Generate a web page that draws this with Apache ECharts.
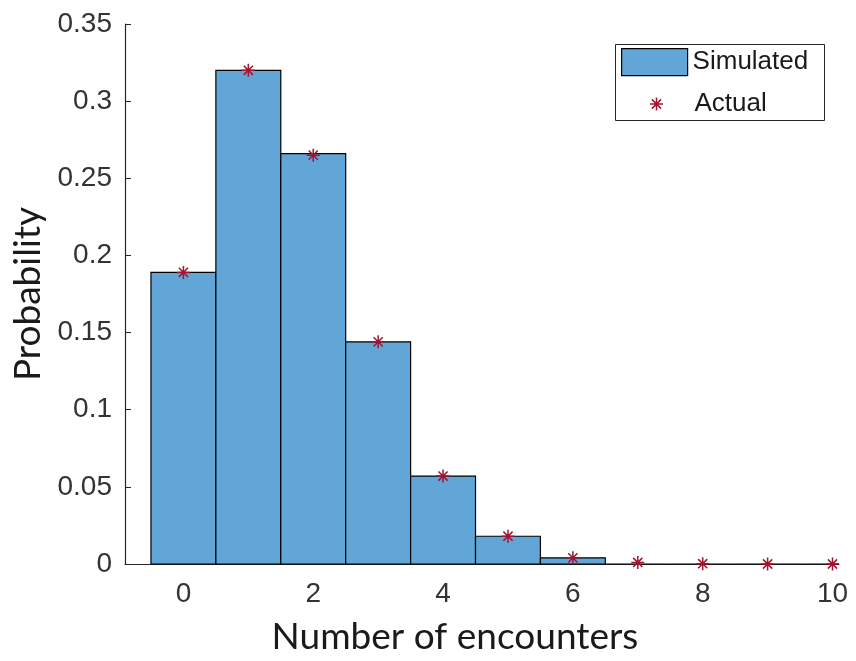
<!DOCTYPE html>
<html>
<head>
<meta charset="utf-8">
<title>Number of encounters</title>
<script src="https://cdn.jsdelivr.net/npm/echarts@6/dist/echarts.min.js"></script>
<style>
  html, body { margin: 0; padding: 0; background: #ffffff; }
  #chart { width: 856px; height: 661px; }
</style>
</head>
<body>
<div id="chart"></div>
<script>
// Encounter counts (histogram bin centres)
const encounters = [0, 1, 2, 3, 4, 5, 6, 7, 8, 9, 10];
// Simulated probability per bin
const simulated = [0.189, 0.320, 0.266, 0.144, 0.057, 0.018, 0.004, 0, 0, 0, 0];
// Actual (theoretical) probability per count
const actual = [0.189, 0.320, 0.265, 0.144, 0.057, 0.018, 0.004, 0.001, 0.0002, 0, 0];
// Tick labels
const xTicks = [0, 2, 4, 6, 8, 10];
const yTicks = [0, 0.05, 0.1, 0.15, 0.2, 0.25, 0.3, 0.35];

const BIN_HALF = 0.5;
const BAR_FILL = '#61A6D7';
const STAR_RED = '#A2142F';
const AXIS_DARK = '#262626';
// eight-spoke asterisk marker
const ASTERISK = 'path://M0,-10L0,10M-10,0L10,0M-7.07,-7.07L7.07,7.07M-7.07,7.07L7.07,-7.07';
// same marker with wide invisible bounds so the legend icon keeps its small size, centred in the swatch
const ASTERISK_WIDE = 'path://M-50.77,-10M50.77,10M0,-10L0,10M-10,0L10,0M-7.07,-7.07L7.07,7.07M-7.07,7.07L7.07,-7.07';

const chart = echarts.init(document.getElementById('chart'), null, { renderer: 'canvas' });

const simData = encounters.map((x, i) => [x, simulated[i]]);
const actData = encounters.map((x, i) => [x, actual[i]]);

const tickFont = { fontFamily: 'Liberation Sans, Arial, sans-serif', fontSize: 28, color: '#333333' };
const nameFont = { fontFamily: 'Lato, sans-serif', fontSize: 37, color: '#1a1a1a' };
const legendFont = { fontFamily: 'Liberation Sans, Arial, sans-serif', fontSize: 26, color: '#1a1a1a' };

chart.setOption({
  animation: false,
  backgroundColor: '#ffffff',
  grid: { left: 125, right: 17, top: 24, bottom: 92, containLabel: false },
  xAxis: {
    type: 'value',
    min: -0.9,
    max: 10.1,
    name: 'Number of encounters',
    nameLocation: 'middle',
    nameGap: 55,
    nameTextStyle: Object.assign({ padding: [0, 54, 0, 0] }, nameFont),
    axisLine: { show: true, onZero: false, lineStyle: { color: AXIS_DARK, width: 1.2 } },
    axisTick: { show: true, inside: true, length: 6, customValues: xTicks, lineStyle: { color: AXIS_DARK, width: 1 } },
    axisLabel: Object.assign({ margin: 16, customValues: xTicks }, tickFont),
    splitLine: { show: false }
  },
  yAxis: {
    type: 'value',
    min: 0,
    max: 0.35,
    name: 'Probability',
    nameLocation: 'middle',
    nameGap: 78,
    nameTextStyle: nameFont,
    axisLine: { show: true, onZero: false, lineStyle: { color: AXIS_DARK, width: 1.2 } },
    axisTick: { show: true, inside: true, length: 6, customValues: yTicks, lineStyle: { color: AXIS_DARK, width: 1 } },
    axisLabel: Object.assign({ margin: 13, customValues: yTicks }, tickFont),
    splitLine: { show: false }
  },
  legend: [
    {
      data: [{ name: 'Simulated', icon: 'rect' }],
      left: 621,
      top: 48,
      padding: 0,
      itemWidth: 66,
      itemHeight: 27,
      selectedMode: false,
      itemStyle: { borderColor: '#000000', borderWidth: 1.2 },
      textStyle: legendFont
    },
    {
      data: [{ name: 'Actual', icon: ASTERISK_WIDE }],
      left: 621,
      top: 91,
      padding: 0,
      itemWidth: 66,
      itemHeight: 13,
      selectedMode: false,
      itemStyle: { color: 'none', borderColor: STAR_RED, borderWidth: 1.5 },
      textStyle: legendFont
    }
  ],
  graphic: [
    {
      type: 'rect',
      left: 613,
      top: 42,
      shape: { width: 209, height: 76 },
      style: { fill: 'none', stroke: AXIS_DARK, lineWidth: 1 },
      z: 10
    }
  ],
  series: [
    {
      name: 'Simulated',
      type: 'custom',
      data: simData,
      itemStyle: { color: BAR_FILL },
      encode: { x: 0, y: 1 },
      renderItem: function (params, api) {
        const x = api.value(0);
        const y = api.value(1);
        const p0 = api.coord([x - BIN_HALF, y]);
        const p1 = api.coord([x + BIN_HALF, 0]);
        const cs = params.coordSys;
        const shape = echarts.graphic.clipRectByRect(
          { x: p0[0], y: p0[1], width: p1[0] - p0[0], height: p1[1] - p0[1] },
          { x: cs.x, y: cs.y, width: cs.width, height: cs.height }
        );
        if (!shape) return null;
        return {
          type: 'rect',
          shape: shape,
          style: { fill: BAR_FILL, stroke: '#000000', lineWidth: 1.2 }
        };
      },
      z: 2
    },
    {
      name: 'Actual',
      type: 'scatter',
      data: actData,
      symbol: ASTERISK,
      symbolSize: 13,
      itemStyle: { color: 'none', borderColor: STAR_RED, borderWidth: 1.5, opacity: 1 },
      z: 5
    }
  ]
});
</script>
</body>
</html>
